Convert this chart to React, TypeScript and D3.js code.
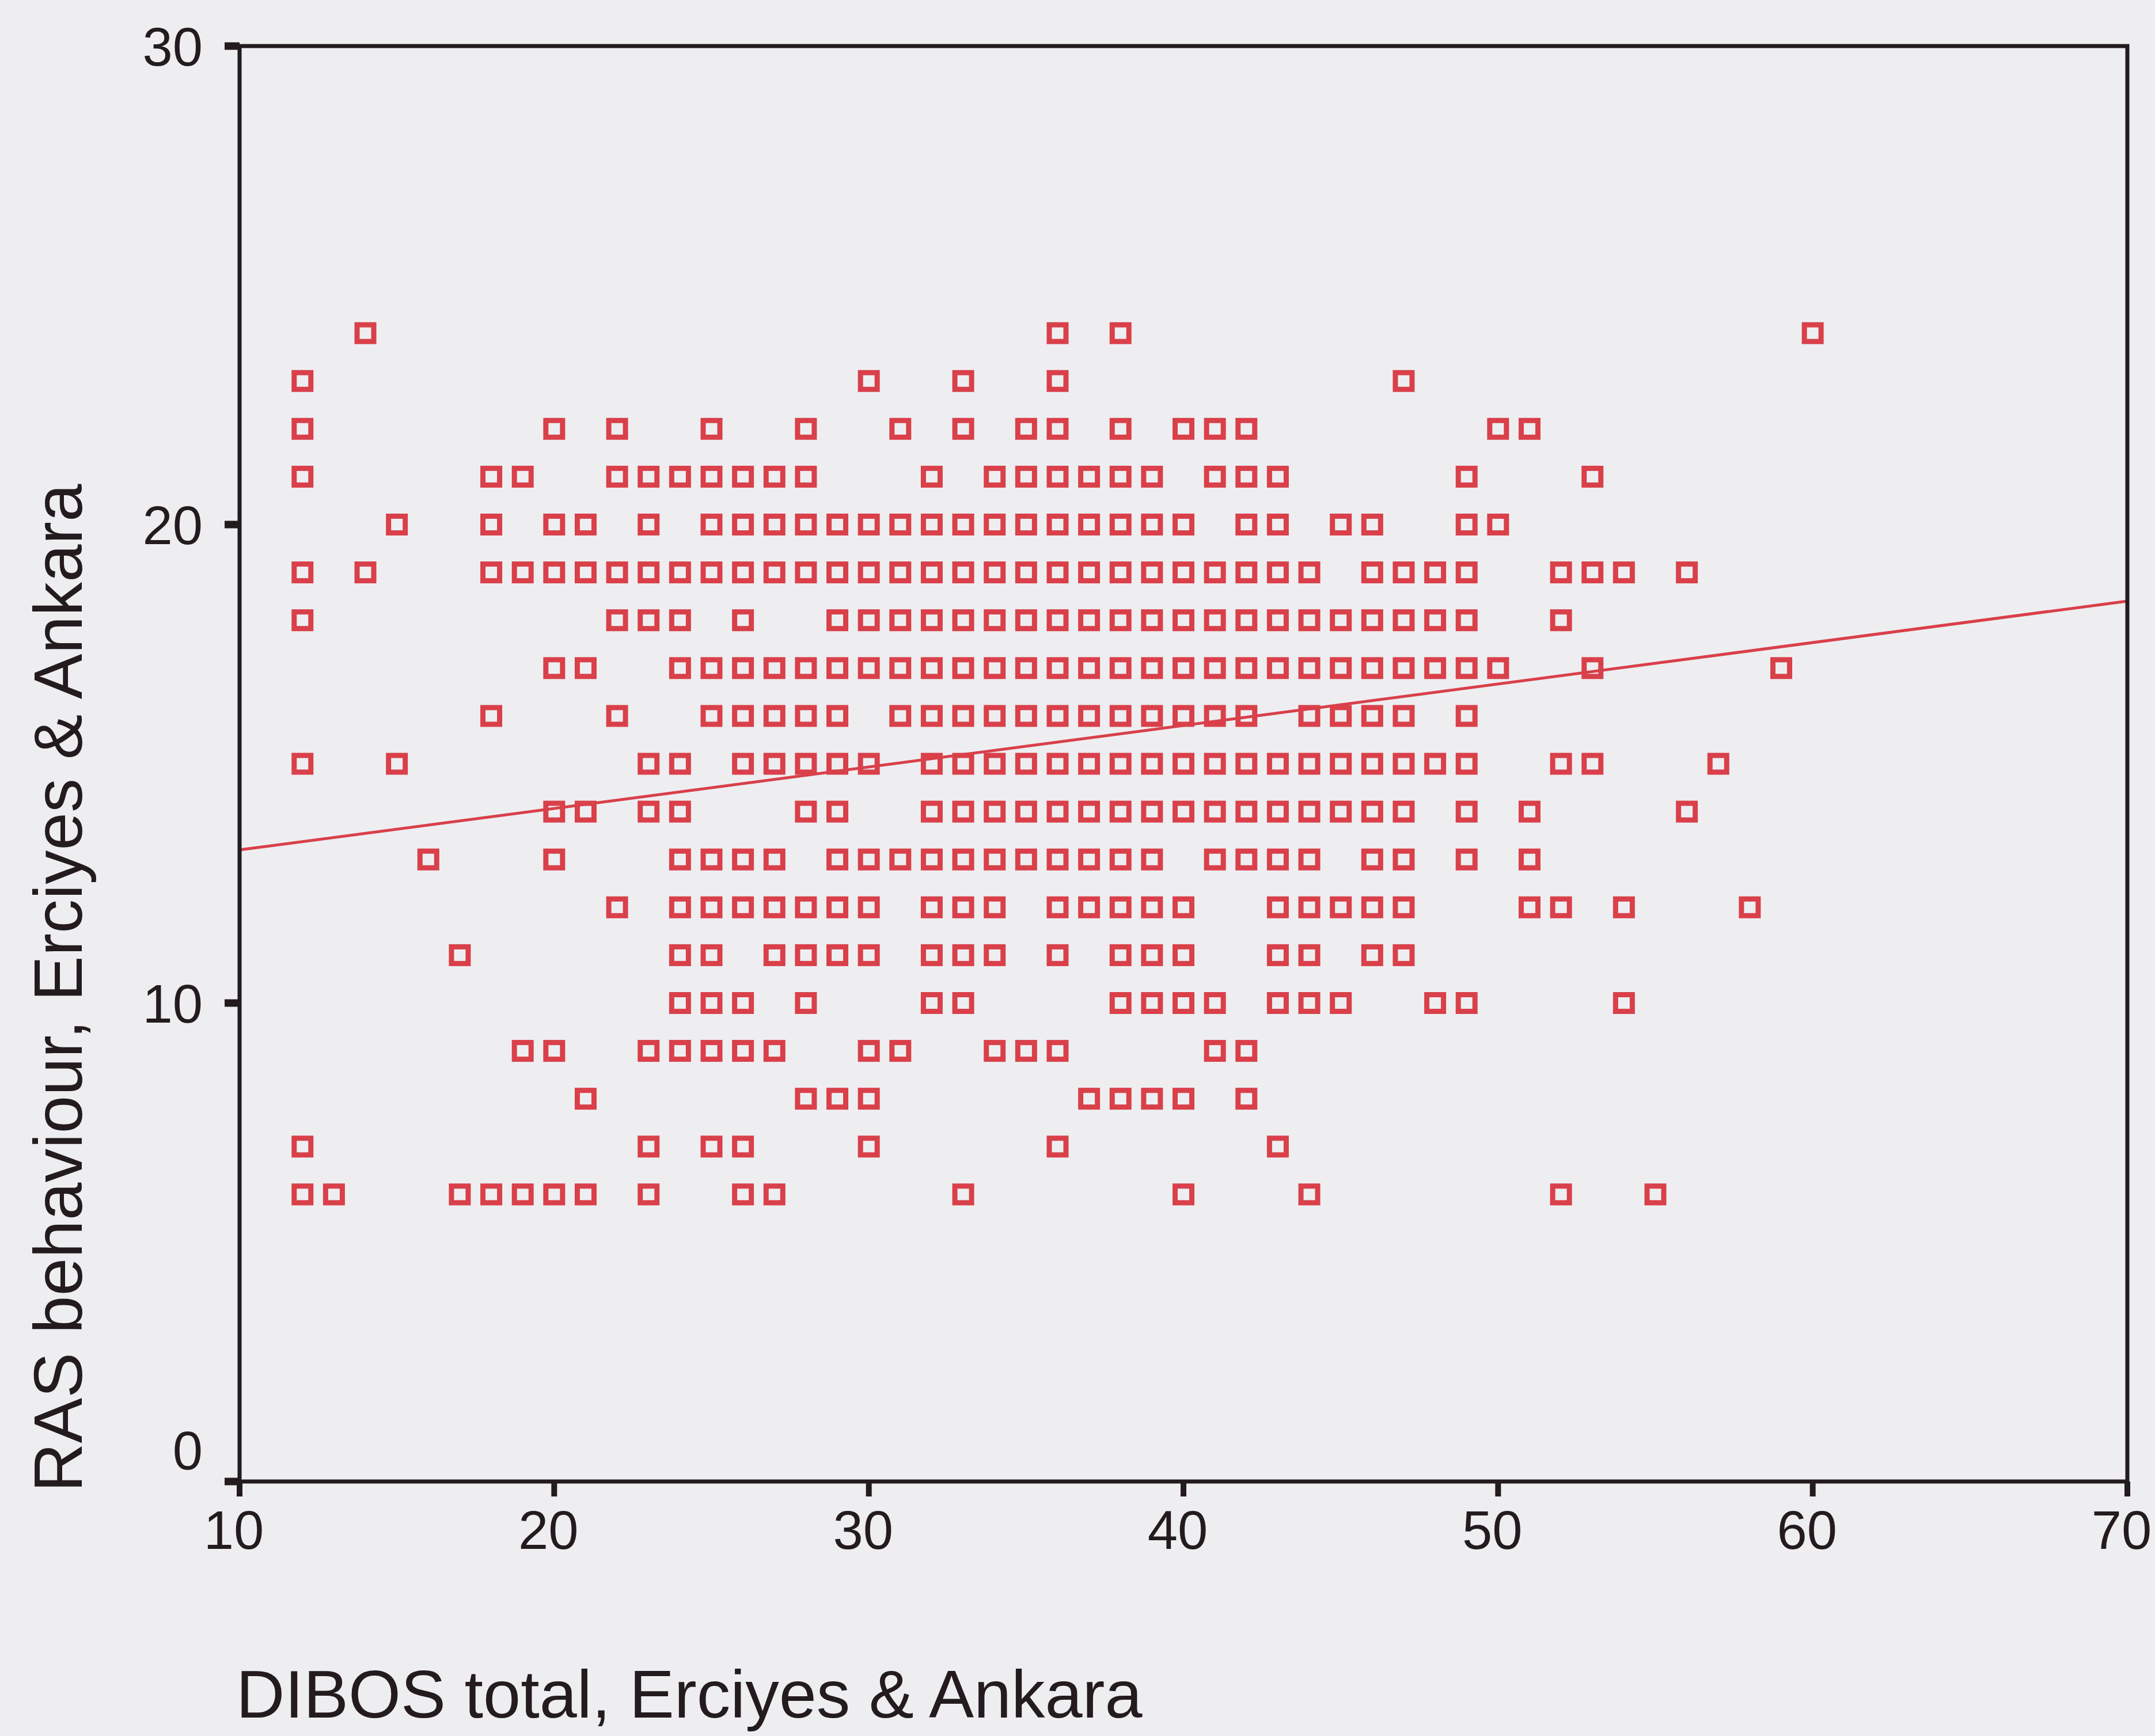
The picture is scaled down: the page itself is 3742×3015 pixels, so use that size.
import React from "react";
import * as d3 from "d3";

// RAS behaviour levels (y) and the DIBOS totals (x) observed at each level
const rasLevels = [24, 23, 22, 21, 20, 19, 18, 17, 16, 15, 14, 13, 12, 11, 10, 9, 8, 7, 6];

const dibos24 = [14, 36, 38, 60];
const dibos23 = [12, 30, 33, 36, 47];
const dibos22 = [12, 20, 22, 25, 28, 31, 33, 35, 36, 38, 40, 41, 42, 50, 51];
const dibos21 = [12, 18, 19, 22, 23, 24, 25, 26, 27, 28, 32, 34, 35, 36, 37, 38, 39, 41, 42, 43, 49, 53];
const dibos20 = [15, 18, 20, 21, 23, 25, 26, 27, 28, 29, 30, 31, 32, 33, 34, 35, 36, 37, 38, 39, 40, 42, 43, 45, 46, 49, 50];
const dibos19 = [12, 14, 18, 19, 20, 21, 22, 23, 24, 25, 26, 27, 28, 29, 30, 31, 32, 33, 34, 35, 36, 37, 38, 39, 40, 41, 42, 43, 44, 46, 47, 48, 49, 52, 53, 54, 56];
const dibos18 = [12, 22, 23, 24, 26, 29, 30, 31, 32, 33, 34, 35, 36, 37, 38, 39, 40, 41, 42, 43, 44, 45, 46, 47, 48, 49, 52];
const dibos17 = [20, 21, 24, 25, 26, 27, 28, 29, 30, 31, 32, 33, 34, 35, 36, 37, 38, 39, 40, 41, 42, 43, 44, 45, 46, 47, 48, 49, 50, 53, 59];
const dibos16 = [18, 22, 25, 26, 27, 28, 29, 31, 32, 33, 34, 35, 36, 37, 38, 39, 40, 41, 42, 44, 45, 46, 47, 49];
const dibos15 = [12, 15, 23, 24, 26, 27, 28, 29, 30, 32, 33, 34, 35, 36, 37, 38, 39, 40, 41, 42, 43, 44, 45, 46, 47, 48, 49, 52, 53, 57];
const dibos14 = [20, 21, 23, 24, 28, 29, 32, 33, 34, 35, 36, 37, 38, 39, 40, 41, 42, 43, 44, 45, 46, 47, 49, 51, 56];
const dibos13 = [16, 20, 24, 25, 26, 27, 29, 30, 31, 32, 33, 34, 35, 36, 37, 38, 39, 41, 42, 43, 44, 46, 47, 49, 51];
const dibos12 = [22, 24, 25, 26, 27, 28, 29, 30, 32, 33, 34, 36, 37, 38, 39, 40, 43, 44, 45, 46, 47, 51, 52, 54, 58];
const dibos11 = [17, 24, 25, 27, 28, 29, 30, 32, 33, 34, 36, 38, 39, 40, 43, 44, 46, 47];
const dibos10 = [24, 25, 26, 28, 32, 33, 38, 39, 40, 41, 43, 44, 45, 48, 49, 54];
const dibos9 = [19, 20, 23, 24, 25, 26, 27, 30, 31, 34, 35, 36, 41, 42];
const dibos8 = [21, 28, 29, 30, 37, 38, 39, 40, 42];
const dibos7 = [12, 23, 25, 26, 30, 36, 43];
const dibos6 = [12, 13, 17, 18, 19, 20, 21, 23, 26, 27, 33, 40, 44, 52, 55];

const dibosRows = [
  dibos24, dibos23, dibos22, dibos21, dibos20, dibos19, dibos18, dibos17, dibos16, dibos15,
  dibos14, dibos13, dibos12, dibos11, dibos10, dibos9, dibos8, dibos7, dibos6,
];

// Fit line end points (x, y)
const fitLineX = [10, 70];
const fitLineY = [13.2, 18.4];

const xTicks = [10, 20, 30, 40, 50, 60, 70];
const yTicks = [0, 10, 20, 30];

const xTitle = "DIBOS total, Erciyes & Ankara";
const yTitle = "RAS behaviour, Erciyes & Ankara";

export default function App() {
  const W = 3742;
  const H = 3015;
  const left = 416;
  const right = 3694;
  const top = 80;
  const bottom = 2573;

  const x = d3.scaleLinear().domain([10, 70]).range([left, right]);
  const y = d3.scaleLinear().domain([0, 30]).range([bottom, top]);

  const points: { px: number; py: number }[] = [];
  rasLevels.forEach((lv, i) => {
    dibosRows[i].forEach((d) => points.push({ px: d, py: lv }));
  });

  const fitPath = d3
    .line<number>()
    .x((_, i) => x(fitLineX[i]))
    .y((v) => y(v))(fitLineY) as string;

  const red = "#d9404a";
  const ink = "#231b1d";
  const font = "'Liberation Sans', Arial, sans-serif";
  const side = 29;

  return (
    <svg
      width={W}
      height={H}
      style={{ position: "absolute", left: 0, top: 0, background: "#eeeef1" }}
    >
      <rect x={0} y={0} width={W} height={H} fill="#eeeef1" />
      {/* points */}
      <g fill="none" stroke={red} strokeWidth={9}>
        {points.map((p, i) => (
          <rect
            key={i}
            x={x(p.px) - side / 2}
            y={y(p.py) - side / 2}
            width={side}
            height={side}
          />
        ))}
      </g>
      {/* fit line */}
      <path d={fitPath} fill="none" stroke={red} strokeWidth={5} />
      {/* frame */}
      <rect
        x={left}
        y={top}
        width={right - left}
        height={bottom - top}
        fill="none"
        stroke={ink}
        strokeWidth={7}
      />
      {/* y ticks */}
      {yTicks.map((t) => (
        <g key={"y" + t}>
          <line x1={left - 26} x2={left} y1={y(t)} y2={y(t)} stroke={ink} strokeWidth={13} />
          <text
            x={352}
            y={y(t) + (t === 0 ? -55 : 0)}
            dy="0.36em"
            textAnchor="end"
            fontFamily={font}
            fontSize={94}
            fill={ink}
          >
            {t}
          </text>
        </g>
      ))}
      {/* x ticks */}
      {xTicks.map((t) => (
        <g key={"x" + t}>
          <line x1={x(t)} x2={x(t)} y1={bottom} y2={bottom + 26} stroke={ink} strokeWidth={10} />
          <text
            x={x(t) - 10}
            y={2690}
            textAnchor="middle"
            fontFamily={font}
            fontSize={94}
            fill={ink}
          >
            {t}
          </text>
        </g>
      ))}
      {/* titles */}
      <text x={410} y={2983} fontFamily={font} fontSize={117} fill={ink}>
        {xTitle}
      </text>
      <text
        transform={`translate(100, ${1716}) rotate(-90)`}
        dy="0.36em"
        textAnchor="middle"
        fontFamily={font}
        fontSize={118}
        fill={ink}
      >
        {yTitle}
      </text>
    </svg>
  );
}
